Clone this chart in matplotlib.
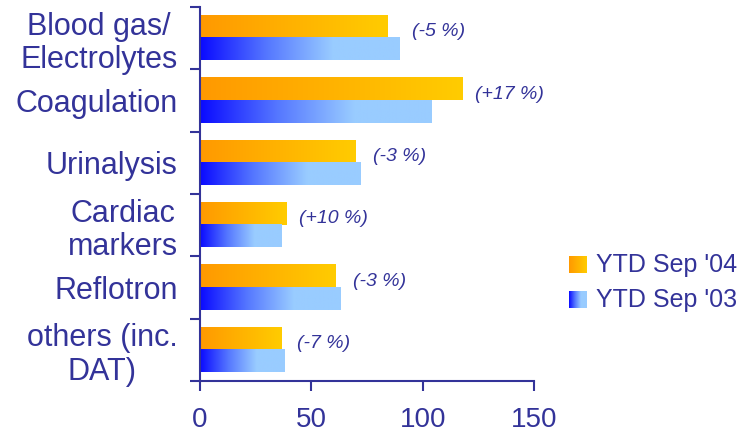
import numpy as np
import matplotlib.pyplot as plt
from matplotlib.colors import LinearSegmentedColormap

plt.rcParams['font.family'] = ['Liberation Sans', 'DejaVu Sans']

# Data
categories = ['Blood gas/\nElectrolytes', 'Coagulation', 'Urinalysis',
              'Cardiac\nmarkers', 'Reflotron', 'others (inc.\nDAT)']
ytd_04 = [84, 118, 70, 39, 61, 36.5]
ytd_03 = [89.5, 104, 72, 36.5, 63, 38]
changes = ['(-5 %)', '(+17 %)', '(-3 %)', '(+10 %)', '(-3 %)', '(-7 %)']
series_names = ["YTD Sep '04", "YTD Sep '03"]

navy = '#333399'
orange_cmap = LinearSegmentedColormap.from_list('orange', ['#FF9900', '#FFCC00'])
blue_cmap = LinearSegmentedColormap.from_list('blue', ['#0a0aff', '#5577ff', '#99CCFF', '#99CCFF'])
grad = np.linspace(0, 1, 256).reshape(1, -1)

fig = plt.figure(figsize=(7.51, 4.36), dpi=100)
ax = fig.add_axes([200 / 751, 1 - 381 / 436, 334 / 751, 374 / 436])

y = np.arange(len(categories))
h = 0.353
bars04 = ax.barh(y - h / 2, ytd_04, height=h, color='none')
bars03 = ax.barh(y + h / 2, ytd_03, height=h, color='none')

for bars, cmap in [(bars04, orange_cmap), (bars03, blue_cmap)]:
    for b in bars:
        x0, y0 = b.get_x(), b.get_y()
        ax.imshow(grad, extent=[x0, x0 + b.get_width(), y0 + b.get_height(), y0],
                  aspect='auto', cmap=cmap, zorder=2)

for i, txt in enumerate(changes):
    ax.text(max(ytd_04[i], ytd_03[i]) + 5.5, i - 0.1, txt, ha='left', va='center',
            fontsize=14, style='italic', color=navy)

ax.set_xlim(0, 150)
ax.set_ylim(len(categories) - 0.5, -0.5)
ax.set_xticks([0, 50, 100, 150])
ax.set_yticks(np.arange(len(categories) + 1) - 0.5)
ax.set_yticklabels([])
ax.set_yticks(y, minor=True)
ax.set_yticklabels(categories, minor=True, fontsize=22, color=navy, linespacing=1.15,
                   multialignment='center')
ax.tick_params(axis='y', which='minor', length=0, pad=16)
ax.tick_params(axis='y', which='major', length=7, width=1.5, color=navy)
ax.tick_params(axis='x', length=7, width=1.5, color=navy, labelsize=20,
               labelcolor=navy, pad=12)
for s in ['top', 'right']:
    ax.spines[s].set_visible(False)
for s in ['left', 'bottom']:
    ax.spines[s].set_color(navy)
    ax.spines[s].set_linewidth(1.5)

# Legend with gradient swatches
for k, (name, cmap) in enumerate([(series_names[0], orange_cmap), (series_names[1], blue_cmap)]):
    top = 256 + k * 35
    sax = fig.add_axes([569 / 751, 1 - (top + 17) / 436, 18 / 751, 17 / 436])
    sax.imshow(grad, aspect='auto', cmap=cmap)
    sax.axis('off')
    fig.text(596 / 751, 1 - (top + 9) / 436, name, fontsize=18, color=navy,
             ha='left', va='center')

fig.savefig('out.png', dpi=100)
